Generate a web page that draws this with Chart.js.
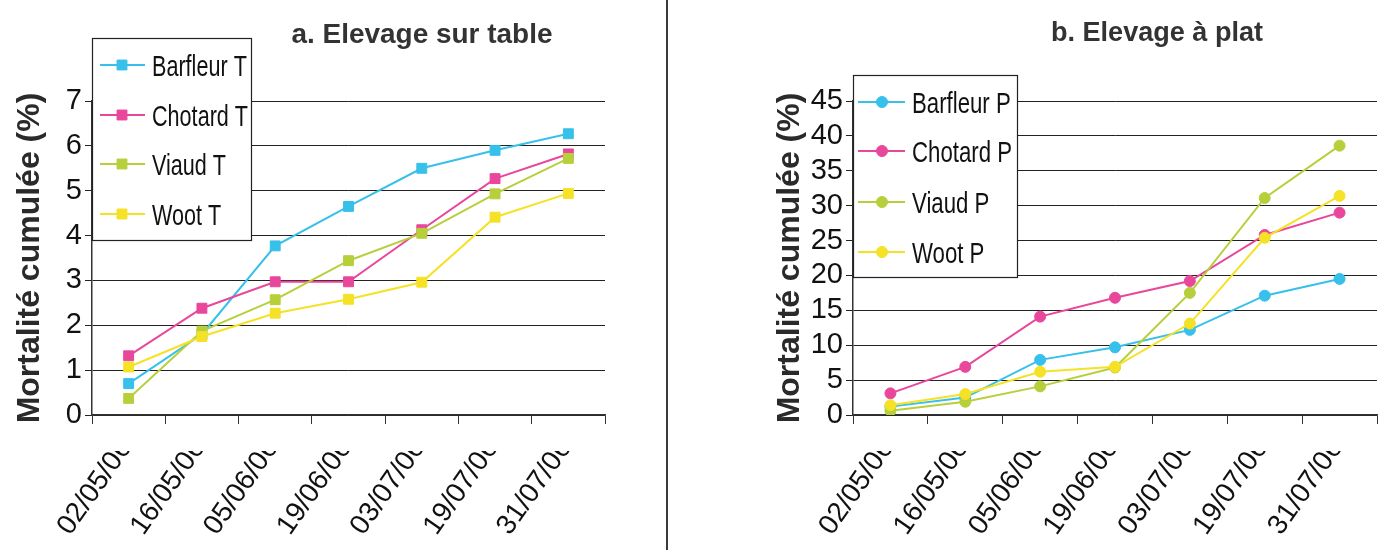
<!DOCTYPE html>
<html>
<head>
<meta charset="utf-8">
<script src="https://cdn.jsdelivr.net/npm/chart.js@4.4.1/dist/chart.umd.min.js"></script>
<style>
  html, body { margin: 0; padding: 0; background: #fff; }
  #wrap { position: relative; width: 1384px; height: 550px; overflow: hidden; background: #fff; }
  #c1 { position: absolute; left: 0; top: 0; }
  #c2 { position: absolute; left: 668px; top: 0; }
  #divider { position: absolute; left: 666px; top: 0; width: 2px; height: 550px; background: #3a3a3a; }
</style>
</head>
<body>
<div id="wrap">
  <canvas id="c1" width="666" height="550"></canvas>
  <div id="divider"></div>
  <canvas id="c2" width="716" height="550"></canvas>
</div>
<script>
// Sampling dates (category axis)
const dates = ['02/05/06', '16/05/06', '05/06/06', '19/06/06', '03/07/06', '19/07/06', '31/07/06'];

// a. Elevage sur table — cumulated mortality (%)
const tableNames = ['Barfleur T', 'Chotard T', 'Viaud T', 'Woot T'];
const barfleurT = [0.7, 1.8, 3.77, 4.65, 5.5, 5.9, 6.27];
const chotardT  = [1.32, 2.38, 2.97, 2.97, 4.13, 5.27, 5.82];
const viaudT    = [0.37, 1.87, 2.57, 3.44, 4.05, 4.93, 5.72];
const wootT     = [1.07, 1.75, 2.27, 2.58, 2.96, 4.41, 4.94];

// b. Elevage à plat — cumulated mortality (%)
const platNames = ['Barfleur P', 'Chotard P', 'Viaud P', 'Woot P'];
const barfleurP = [1.2, 2.5, 7.9, 9.7, 12.2, 17.1, 19.5];
const chotardP  = [3.1, 6.9, 14.1, 16.8, 19.2, 25.8, 29.0];
const viaudP    = [0.6, 1.9, 4.1, 6.8, 17.5, 31.1, 38.6];
const wootP     = [1.4, 3.0, 6.2, 6.9, 13.1, 25.4, 31.4];

// Axis ranges and steps
const tableAxis = { min: 0, max: 7, step: 1 };
const platAxis  = { min: 0, max: 45, step: 5 };

const yTitle = 'Mortalité cumulée (%)';
const titleTable = 'a. Elevage sur table';
const titlePlat = 'b. Elevage à plat';

const seriesColors = ['#36c0ea', '#e8479b', '#b8cf3c', '#f5e126'];

const FONT = "'Liberation Sans', Arial, sans-serif";

// Draw text squeezed/stretched horizontally to a target width
function drawFitted(ctx, text, x, y, targetWidth, font, align) {
  ctx.save();
  ctx.font = font;
  const w = ctx.measureText(text).width;
  const s = targetWidth / w;
  ctx.translate(x, y);
  ctx.scale(s, 1);
  ctx.textAlign = align;
  ctx.textBaseline = 'alphabetic';
  ctx.fillText(text, 0, 0);
  ctx.restore();
}

function decorPlugin(cfg) {
  return {
    id: 'decor',
    afterDraw(chart) {
      const ctx = chart.ctx;
      const xs = chart.scales.x;

      // Chart title
      ctx.save();
      ctx.fillStyle = '#333';
      drawFitted(ctx, cfg.title, cfg.titleX, cfg.titleY, cfg.titleW, 'bold 28px ' + FONT, 'center');
      ctx.restore();

      // Rotated date labels, cut along a horizontal line under the axis
      ctx.save();
      ctx.beginPath();
      ctx.rect(0, cfg.clipY, chart.width, chart.height - cfg.clipY);
      ctx.clip();
      ctx.fillStyle = '#111';
      ctx.font = '28px ' + FONT;
      ctx.textAlign = 'right';
      ctx.textBaseline = 'alphabetic';
      const ang = cfg.labelAngle * Math.PI / 180;
      dates.forEach((d, i) => {
        const cx = xs.getPixelForTick(i);
        ctx.save();
        ctx.translate(cx + cfg.labelDx, cfg.labelY);
        ctx.rotate(-ang);
        ctx.fillText(d, 0, 0);
        ctx.restore();
      });
      ctx.restore();

      // Legend box over the top-left of the plot
      const L = cfg.legend;
      ctx.save();
      ctx.fillStyle = '#fff';
      ctx.fillRect(L.x, L.y, L.w, L.h);
      ctx.strokeStyle = '#222';
      ctx.lineWidth = 1.2;
      ctx.strokeRect(L.x + 0.5, L.y + 0.5, L.w, L.h);
      chart.data.datasets.forEach((ds, i) => {
        const yy = L.y + L.rows[i];
        ctx.strokeStyle = ds.borderColor;
        ctx.lineWidth = 2;
        ctx.beginPath();
        ctx.moveTo(L.x + L.line0, yy);
        ctx.lineTo(L.x + L.line1, yy);
        ctx.stroke();
        ctx.fillStyle = ds.borderColor;
        ctx.strokeStyle = ds.borderColor;
        ctx.lineWidth = 1;
        Chart.helpers.drawPoint(ctx, { pointStyle: ds.pointStyle, radius: ds.pointRadius, rotation: 0, borderWidth: 1 },
          L.x + L.marker, yy);
        ctx.fillStyle = '#111';
        ctx.font = '30px ' + FONT;
        const s = L.textScale;
        ctx.save();
        ctx.translate(L.x + L.text, yy + 11);
        ctx.scale(s, 1);
        ctx.textAlign = 'left';
        ctx.fillText(ds.label, 0, 0);
        ctx.restore();
      });
      ctx.restore();
    }
  };
}

function makeDatasets(names, series, style, radius) {
  return series.map((vals, i) => ({
    label: names[i],
    data: vals,
    borderColor: seriesColors[i],
    backgroundColor: seriesColors[i],
    pointBackgroundColor: seriesColors[i],
    pointBorderColor: seriesColors[i],
    pointStyle: style,
    pointRadius: radius,
    pointHoverRadius: radius,
    pointBorderWidth: 1,
    borderWidth: 2,
    tension: 0,
    order: 4 - i
  }));
}

function makeChart(canvas, names, series, style, radius, axis, geom, decor) {
  return new Chart(canvas, {
    type: 'line',
    data: { labels: dates, datasets: makeDatasets(names, series, style, radius) },
    options: {
      responsive: false,
      animation: false,
      events: [],
      layout: { padding: { left: geom.padLeft, top: geom.top, right: geom.padRight, bottom: 0 } },
      plugins: { legend: { display: false }, tooltip: { enabled: false }, title: { display: false } },
      scales: {
        x: {
          type: 'category',
          offset: true,
          afterFit(scale) { scale.height = geom.xHeight; },
          grid: { offset: true, drawOnChartArea: false, drawTicks: true, tickLength: 9, color: '#333', lineWidth: 1 },
          border: { display: true, color: '#333', width: 1.5 },
          ticks: { display: false }
        },
        y: {
          min: axis.min,
          max: axis.max,
          afterFit(scale) { scale.width = geom.yWidth; },
          ticks: { stepSize: axis.step, autoSkip: false, color: '#111', padding: 3, font: { family: FONT, size: 29 } },
          grid: { color: '#222', lineWidth: 1, tickLength: 7 },
          border: { display: true, color: '#333', width: 1.5 },
          title: { display: true, text: yTitle, color: '#2a2a2a', padding: 0, font: { family: FONT, size: 32, weight: 'bold' } }
        }
      }
    },
    plugins: [decorPlugin(decor)]
  });
}

makeChart(document.getElementById('c1'), tableNames, [barfleurT, chotardT, viaudT, wootT], 'rect', 7, tableAxis,
  { padLeft: 11, yWidth: 81, top: 101, padRight: 61, xHeight: 135 },
  { title: titleTable, titleX: 422, titleY: 43, titleW: 261, clipY: 451, labelAngle: 55, labelDx: 4, labelY: 447,
    legend: { x: 92, y: 38, w: 159, h: 202, rows: [27, 77, 126, 176], line0: 8, line1: 53, marker: 30, text: 60, textScale: 0.72 } });

makeChart(document.getElementById('c2'), platNames, [barfleurP, chotardP, viaudP, wootP], 'circle', 5.5, platAxis,
  { padLeft: 103, yWidth: 82, top: 101, padRight: 7, xHeight: 135 },
  { title: titlePlat, titleX: 1157 - 668, titleY: 41, titleW: 212, clipY: 451, labelAngle: 55, labelDx: 4, labelY: 447,
    legend: { x: 853 - 668, y: 75, w: 164, h: 202, rows: [27, 76, 127, 177], line0: 5, line1: 52, marker: 29, text: 59, textScale: 0.74 } });
</script>
</body>
</html>
